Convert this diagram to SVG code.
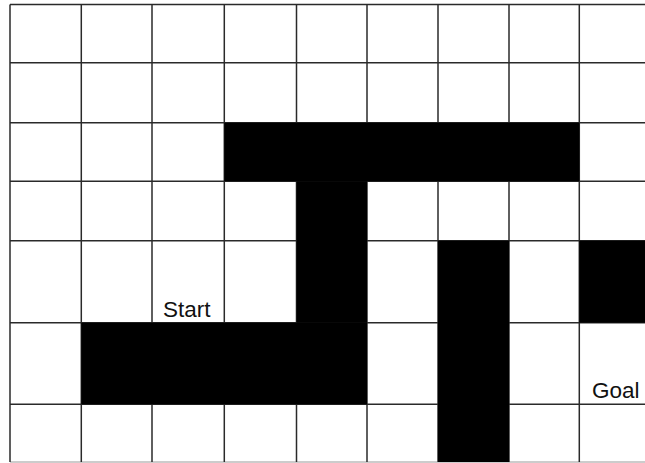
<svg xmlns="http://www.w3.org/2000/svg" width="645" height="463" viewBox="0 0 645 463">
<style>
.g{stroke:#2a2a2a;stroke-width:1.5;fill:none}
.w{fill:#000}
.t{font-family:"Liberation Sans",Arial,sans-serif;font-size:22.5px;fill:#111}
</style>
<rect width="645" height="463" fill="#fff"/>
<g id="grid" class="g">
<line x1="10" y1="4.5" x2="645" y2="4.5"/>
<line x1="10" y1="62.7" x2="645" y2="62.7"/>
<line x1="10" y1="122.7" x2="645" y2="122.7"/>
<line x1="10" y1="181.3" x2="645" y2="181.3"/>
<line x1="10" y1="240.7" x2="645" y2="240.7"/>
<line x1="10" y1="322.7" x2="645" y2="322.7"/>
<line x1="10" y1="404.3" x2="645" y2="404.3"/>
<line x1="10" y1="462" x2="645" y2="462" stroke="#bbb"/>
<line x1="10" y1="4.5" x2="10" y2="462"/>
<line x1="81.3" y1="4.5" x2="81.3" y2="462"/>
<line x1="152" y1="4.5" x2="152" y2="462"/>
<line x1="224.3" y1="4.5" x2="224.3" y2="462"/>
<line x1="296.5" y1="4.5" x2="296.5" y2="462"/>
<line x1="367" y1="4.5" x2="367" y2="462"/>
<line x1="438" y1="4.5" x2="438" y2="462"/>
<line x1="509" y1="4.5" x2="509" y2="462"/>
<line x1="579.3" y1="4.5" x2="579.3" y2="462"/>
</g>
<g id="obstacles" class="w">
<rect id="wall-top" x="224.3" y="122.7" width="355" height="58.6"/>
<rect id="wall-stem" x="296.5" y="181.3" width="70.5" height="141.4"/>
<rect id="wall-bottom" x="81.3" y="322.7" width="285.7" height="81.6"/>
<rect id="wall-column" x="438" y="240.7" width="71" height="221.3"/>
<rect id="wall-right" x="579.3" y="240.7" width="65.7" height="82"/>
</g>
<g id="labels">
<text id="start" class="t" x="163" y="316.5">Start</text>
<text id="goal" class="t" x="592" y="398">Goal</text>
</g>
</svg>
